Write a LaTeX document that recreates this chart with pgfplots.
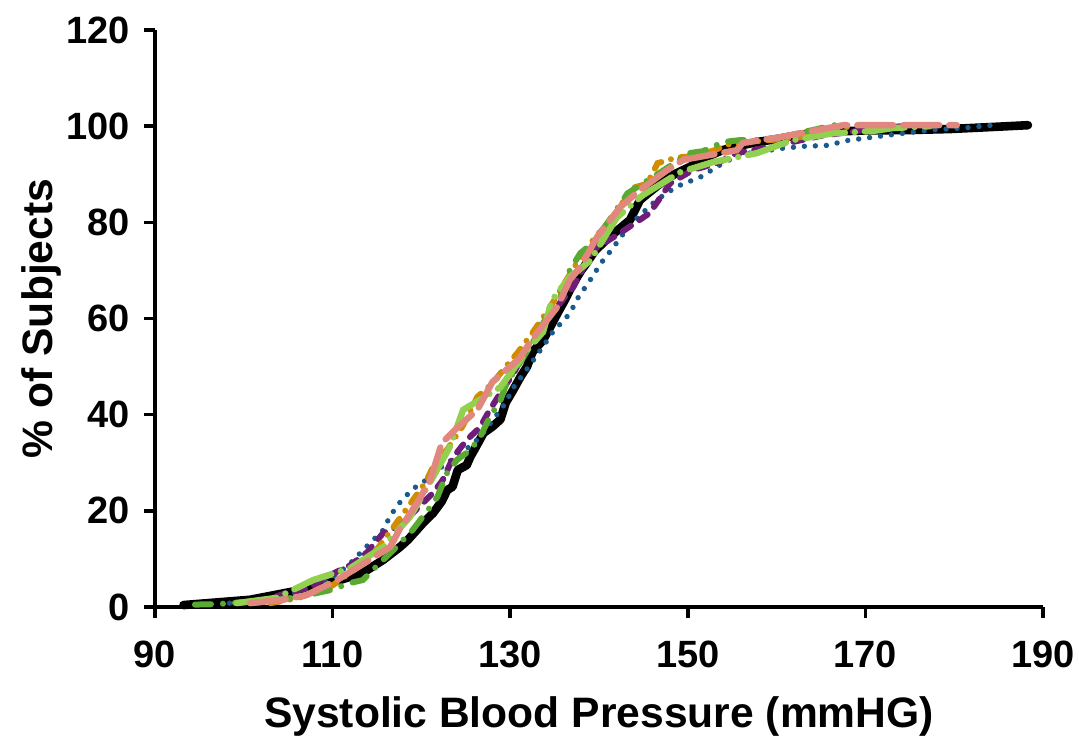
\documentclass[border=0pt]{standalone}
\usepackage{pgfplots}
\pgfplotsset{compat=1.18}
\usepackage{fontspec}
\setmainfont{Liberation Sans}
\definecolor{cblue}{HTML}{1B5A8C}
\definecolor{cpurple}{HTML}{6E1E78}
\definecolor{corange}{HTML}{D28C00}
\definecolor{cpink}{HTML}{E1877D}
\definecolor{clgreen}{HTML}{92D050}
\definecolor{cdgreen}{HTML}{5AAA32}
\begin{document}
\begin{tikzpicture}
\begin{axis}[
  scale only axis,
  width=444pt, height=288.5pt,
  xmin=90, xmax=190, ymin=0, ymax=120,
  axis lines*=left,
  axis line style={line width=1.75pt},
  xtick={90,110,...,190}, ytick={0,20,...,120},
  tick align=outside,
  major tick length=5.5pt,
  every tick/.style={black, line width=1.75pt},
  /pgf/number format/assume math mode=true,
  ticklabel style={font=\bfseries\fontsize{19}{19}\selectfont},
  xticklabel style={yshift=-8pt},
  yticklabel style={xshift=-3.5pt},
  label style={font=\bfseries\fontsize{21.3}{21.3}\selectfont},
  xlabel={Systolic Blood Pressure (mmHG)},
  ylabel={\% of Subjects},
  xlabel style={at={(axis description cs:0.5,-0.2097)}, anchor=base, inner sep=0pt},
  ylabel style={at={(axis description cs:-0.105,0.5)}, anchor=south, inner sep=0pt},
  clip=false,
]
\coordinate (o) at (rel axis cs:0,0);
% black solid
\addplot[black, line width=4.3pt, line join=round, line cap=round] coordinates {
(93.2,0.4) (100.7,1.5) (106.3,3.5) (110.8,5.6) (113.4,7.1) (115.7,9.8) (117.6,12.5) (118.5,14) (120.2,17.5) (121.3,19.5) (122.3,22) (122.9,24.3) (123.5,25) (124.1,28.5) (125.1,29.5) (125.5,31.2) (126.2,33.5) (127,36.2) (128,37.5) (128.9,39) (129.5,42.5) (130.3,45) (131.2,48) (131.9,50) (132.5,53) (133.7,55.5) (134.5,58.2) (135.3,61) (136.2,64) (137,67) (138,70) (138.6,71.5) (139.5,74) (140.9,76.5) (142.2,78.5) (143.5,80.5) (144.6,84.6) (145.5,86) (147.2,88.5) (148.5,90) (150.2,91.5) (152,93.5) (153.9,95) (155.5,95.8) (157.8,96.7) (160,97.3) (162.3,98.1) (165,98.8) (170,99.1) (175,99.2) (179.5,99.4) (184,99.8) (188.3,100.2)
};
% blue dotted
\addplot[cblue, line width=2.7pt, line cap=round, dash pattern=on 0pt off 5.5pt] coordinates {
(98.4,0.8) (103,1.8) (107.1,3.5) (110,6) (112,9.1) (114,12.9) (115.7,16) (116.5,19) (117.6,21.8) (119,24.5) (121,27) (122.5,29.5) (124.3,31.6) (126.6,35.3) (128.5,40) (129.5,42.5) (130.3,45.5) (131.5,48.5) (132.6,51.3) (134,55) (134.8,57.2) (136.7,61) (137.6,64.2) (139,68) (140.3,71.7) (141.5,74.5) (142.6,77.3) (144.3,80.9) (146.1,84) (147.5,86) (149.1,87.7) (151.4,89.4) (153.6,91.9) (155.7,94) (157,94.4) (160.7,95.4) (163,95.8) (165.7,96) (167.9,97) (171.6,97.9) (174.2,98.5) (178,99.3) (181,99.6) (184.3,100.2)
};
% purple dashed
\addplot[cpurple, line width=3pt, line cap=round, dash pattern=on 5pt off 5pt] coordinates {
(101.5,0.8) (104.9,3) (106,3.5) (107.5,4) (109,6) (112,8.7) (113.9,11.4) (115.7,15.4) (117.2,16.6) (119,19.5) (121.3,23.7) (122.4,26.4) (123.6,31.2) (125.1,34.7) (126.6,37.4) (127.7,41) (128.9,44.5) (130.5,49) (131.9,54) (133.5,58) (135.6,63.2) (137.1,66.5) (139.3,74.2) (142.4,77.8) (145.7,81.9) (148,88.1) (150.6,90.9) (153.3,92.3) (155.5,94.4) (158.9,95.6) (161.8,96.7) (165,98) (168.3,98.8) (171,99.5) (174.2,100)
};
% orange dash-dot
\addplot[corange, line width=3pt, line cap=round, dash pattern=on 5pt off 5pt on 0pt off 5pt] coordinates {
(103,0.8) (106,1.8) (110,4.5) (112.7,8.1) (115,12) (117,17) (119.3,22.9) (120.5,26) (121.3,29.1) (123,33) (124.7,37.8) (126.3,43.7) (128,46.5) (129.5,50) (130.8,52.8) (132.5,57) (134.5,62.4) (136,67) (138,73) (139.8,77.5) (141.5,80) (143.5,87) (145.4,88) (146.6,92.3) (148.8,93.5) (151,93.8) (153,95) (155,96.5) (157,96.7) (162.6,97.7) (165,98.5) (167,99.5) (169,100.2)
};
% dark green
\addplot[cdgreen, line width=3pt, line cap=round, dash pattern=on 8pt off 6pt on 0pt off 6pt] coordinates {
(94.5,0.5) (97,0.6) (103.7,1.5) (106,2) (109.7,3.5) (112,5) (113.4,5.6) (115.3,9.1) (117.2,12.5) (119,16) (121,20.8) (121.8,22.9) (122.9,27.9) (124,30.6) (125.5,32.6) (126.6,35.3) (127.7,39.5) (128.9,43) (129.6,46.6) (130.8,49.9) (132.5,55) (134.1,60.3) (135.3,62.4) (136,66.5) (136.7,70) (137.9,73.6) (139.3,75.7) (141,80) (143.2,86) (144.6,87.7) (147,90.5) (150.2,94.4) (151.7,94.8) (154,96.7) (155.9,97.1) (158.1,97.1) (160.4,97.7) (162.3,98.5) (164.1,99.2) (166.4,100.2) (167.5,100.2)
};
% light green long dash dot
\addplot[clgreen, line width=3.2pt, line cap=round, dash pattern=on 20pt off 5pt on 0pt off 5pt] coordinates {
(99.2,0.8) (103.7,1.9) (107.8,5.6) (112,8.1) (115.7,12.5) (118.7,18.7) (121.3,27) (123.2,33.3) (124.7,41) (128.9,45.7) (131.9,53.4) (133.7,57.2) (134.7,63.8) (136.7,68.6) (139,72) (142,81) (144.9,85.6) (149.1,90.4) (152.8,92.5) (157.8,94.4) (161.8,97.1) (166.3,98.5) (170.9,99) (173.1,99.6) (177.3,100)
};
% pink long dash
\addplot[cpink, line width=3.2pt, line cap=round, dash pattern=on 18pt off 5pt] coordinates {
(100.7,0.8) (104.4,1.5) (107.1,2.5) (110.5,5.6) (112.7,8.1) (116.5,12.5) (117.5,16) (119.5,21.6) (121,26.4) (122.3,34.1) (124.1,37.4) (126.3,41) (128,46.8) (131.1,51.8) (132.6,56) (135.3,62.4) (136.7,68) (137.9,70.7) (139.8,77) (142.4,83.2) (144.6,86.7) (147.7,90.9) (149.5,93) (155.5,95) (156.2,96.5) (160.4,97.7) (162.6,98.5) (167.5,100.2) (180.3,100.2)
};
\end{axis}
\pgfresetboundingbox
\path (o) ++(-77.5pt,-67.5pt) rectangle ++(539.5pt,371pt);
\end{tikzpicture}
\end{document}
